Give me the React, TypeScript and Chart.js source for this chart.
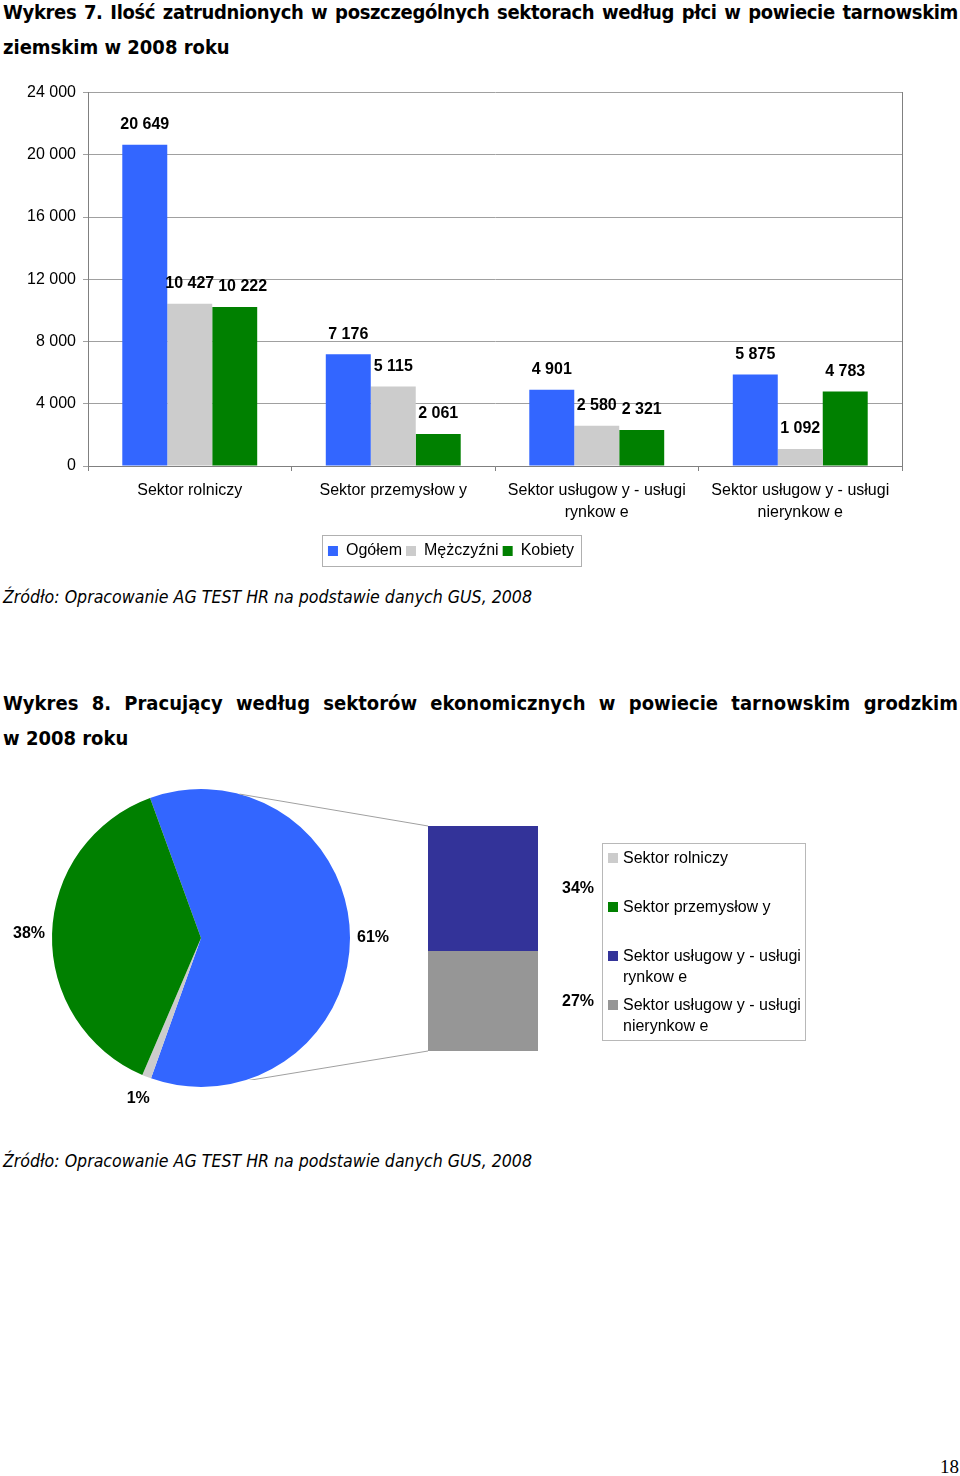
import React, { useEffect, useRef } from 'react';
import { Chart, registerables } from 'chart.js';

Chart.register(...registerables);

// ---------- Wykres 7 data ----------
const sectorLabels: (string | string[])[] = [
  'Sektor rolniczy',
  'Sektor przemysłow y',
  ['Sektor usługow y - usługi', 'rynkow e'],
  ['Sektor usługow y - usługi', 'nierynkow e'],
];
const seriesNames = ['Ogółem', 'Mężczyźni', 'Kobiety'];
const ogolem = [20649, 7176, 4901, 5875];
const mezczyzni = [10427, 5115, 2580, 1092];
const kobiety = [10222, 2061, 2321, 4783];
const yMin = 0;
const yMax = 24000;
const yStep = 4000;

// ---------- Wykres 8 data (percent) ----------
const pieSectorNames = [
  'Sektor rolniczy',
  'Sektor przemysłow y',
  'Sektor usługow y - usługi rynkow e',
  'Sektor usługow y - usługi nierynkow e',
];
const rolniczyShare = 1;
const przemyslowyShare = 38;
const rynkoweShare = 34;
const nierynkoweShare = 27;

const FONT = "'Liberation Sans', Arial, sans-serif";
const TITLE_FONT = "'DejaVu Sans Condensed', 'DejaVu Sans', sans-serif";

const fmt = (v: number) => String(v).replace(/\B(?=(\d{3})+(?!\d))/g, ' ');

const barValueLabels = {
  id: 'barValueLabels',
  afterDatasetsDraw(chart: any) {
    const ctx = chart.ctx;
    ctx.save();
    ctx.font = `bold 16px ${FONT}`;
    ctx.fillStyle = '#000';
    ctx.textAlign = 'center';
    ctx.textBaseline = 'middle';
    const n = chart.data.labels.length;
    for (let i = 0; i < n; i++) {
      let prevRight = -Infinity;
      let prevY = -Infinity;
      chart.data.datasets.forEach((ds: any, di: number) => {
        const bar: any = chart.getDatasetMeta(di).data[i];
        const txt = fmt(ds.data[i]);
        const w = ctx.measureText(txt).width;
        const ly = bar.y - 20;
        let cx = bar.x;
        if (Math.abs(ly - prevY) < 16 && cx - w / 2 < prevRight + 4) cx = prevRight + 4 + w / 2;
        ctx.fillText(txt, cx, ly);
        prevRight = cx + w / 2;
        prevY = ly;
      });
    }
    ctx.restore();
  },
};

const legendBorder = {
  id: 'legendBorder',
  afterDraw(chart: any) {
    const lg = chart.legend;
    if (!lg || !lg.legendHitBoxes || !lg.legendHitBoxes.length) return;
    const hb = lg.legendHitBoxes;
    let l = Infinity, r = -Infinity, t = Infinity, b = -Infinity;
    hb.forEach((h: any) => {
      l = Math.min(l, h.left);
      r = Math.max(r, h.left + h.width);
      t = Math.min(t, h.top);
      b = Math.max(b, h.top + h.height);
    });
    const ctx = chart.ctx;
    ctx.save();
    ctx.strokeStyle = '#b0b0b0';
    ctx.lineWidth = 1;
    ctx.strokeRect(Math.round(l - 6) + 0.5, Math.round(t - 8) + 0.5, Math.round(r - l + 13), Math.round(b - t + 15));
    ctx.restore();
  },
};

function BarChart() {
  const ref = useRef<HTMLCanvasElement>(null);
  useEffect(() => {
    const chart = new Chart(ref.current!, {
      type: 'bar',
      data: {
        labels: sectorLabels as any,
        datasets: [
          { label: seriesNames[0], data: ogolem, backgroundColor: '#3366FF' },
          { label: seriesNames[1], data: mezczyzni, backgroundColor: '#CCCCCC' },
          { label: seriesNames[2], data: kobiety, backgroundColor: '#008000' },
        ],
      },
      options: {
        animation: false,
        responsive: true,
        maintainAspectRatio: false,
        layout: { padding: { top: 8, right: 58, left: 0, bottom: 6 } },
        datasets: { bar: { categoryPercentage: 0.663, barPercentage: 1 } } as any,
        scales: {
          x: {
            grid: { offset: true, drawOnChartArea: false, tickLength: 5, color: '#808080' },
            border: { color: '#808080' },
            ticks: {
              font: { size: 16, family: FONT, lineHeight: 1.375 },
              color: '#000',
              maxRotation: 0,
              autoSkip: false,
              padding: 9,
            },
            afterFit: (s: any) => { s.height = 73; },
          },
          y: {
            min: yMin,
            max: yMax,
            ticks: {
              stepSize: yStep,
              callback: (v: any) => fmt(Number(v)),
              font: { size: 16, family: FONT },
              color: '#000',
              padding: 7,
            },
            grid: { color: '#a0a0a0', tickLength: 5 },
            border: { color: '#808080' },
            afterFit: (s: any) => { s.width = 88; },
          },
          y2: {
            position: 'right',
            display: true,
            grid: { display: false },
            ticks: { display: false },
            border: { color: '#808080' },
            afterFit: (s: any) => { s.width = 0; },
          },
        },
        plugins: {
          legend: {
            position: 'bottom',
            labels: { boxWidth: 10, boxHeight: 10, font: { size: 16, family: FONT }, color: '#000', padding: 4 },
          },
          tooltip: { enabled: false },
        },
      } as any,
      plugins: [barValueLabels, legendBorder],
    });
    return () => chart.destroy();
  }, []);
  return (
    <div style={{ position: 'absolute', left: 0, top: 76, width: 960, height: 499 }}>
      <canvas ref={ref} />
    </div>
  );
}

// geometry of page regions for Wykres 8
const PIE_LEFT = 0, PIE_TOP = 770;
const BAR_LEFT = 200, BAR_TOP = 780;

function PieOfBar() {
  const pieRef = useRef<HTMLCanvasElement>(null);
  const barRef = useRef<HTMLCanvasElement>(null);
  useEffect(() => {
    const otherShare = rynkoweShare + nierynkoweShare;
    const pieValues = [otherShare, rolniczyShare, przemyslowyShare];
    const pieLabels = ['Pozostałe', pieSectorNames[0], pieSectorNames[1]];
    const pieLabelsPlugin = {
      id: 'pieLabels',
      afterDatasetsDraw(chart: any) {
        const ctx = chart.ctx;
        const meta = chart.getDatasetMeta(0);
        ctx.save();
        ctx.font = `bold 16px ${FONT}`;
        ctx.fillStyle = '#000';
        ctx.textAlign = 'center';
        ctx.textBaseline = 'middle';
        meta.data.forEach((arc: any, i: number) => {
          const { x, y, startAngle, endAngle, outerRadius } = arc.getProps(['x', 'y', 'startAngle', 'endAngle', 'outerRadius'], true);
          const mid = (startAngle + endAngle) / 2;
          const rr = outerRadius + 23;
          ctx.fillText(pieValues[i] + '%', x + Math.cos(mid) * rr, y + Math.sin(mid) * rr);
        });
        ctx.restore();
      },
    };
    const pie = new Chart(pieRef.current!, {
      type: 'pie',
      data: {
        labels: pieLabels,
        datasets: [{ data: pieValues, backgroundColor: ['#3366FF', '#CCCCCC', '#008000'], borderWidth: 0 }],
      },
      options: {
        animation: false,
        responsive: true,
        maintainAspectRatio: false,
        rotation: -20,
        layout: { padding: { left: 52, top: 19, right: 80, bottom: 33 } },
        plugins: { legend: { display: false }, tooltip: { enabled: false } },
      } as any,
      plugins: [pieLabelsPlugin],
    });

    const connectors = {
      id: 'connectors',
      beforeDatasetsDraw(chart: any) {
        const arc: any = pie.getDatasetMeta(0).data[0];
        if (!arc) return;
        const { x, y, outerRadius } = arc.getProps(['x', 'y', 'outerRadius'], true);
        const cx = x + PIE_LEFT - BAR_LEFT;
        const cy = y + PIE_TOP - BAR_TOP;
        const a = (75 * Math.PI) / 180;
        const topMeta = chart.getDatasetMeta(1).data[0] as any;
        const botMeta = chart.getDatasetMeta(0).data[0] as any;
        const ctx = chart.ctx;
        ctx.save();
        ctx.strokeStyle = '#a0a0a0';
        ctx.lineWidth = 1;
        ctx.beginPath();
        ctx.moveTo(cx + Math.cos(-a) * outerRadius, cy + Math.sin(-a) * outerRadius);
        ctx.lineTo(topMeta.x - topMeta.width / 2, topMeta.y);
        ctx.moveTo(cx + Math.cos(a) * outerRadius, cy + Math.sin(a) * outerRadius);
        ctx.lineTo(botMeta.x - botMeta.width / 2, botMeta.base);
        ctx.stroke();
        ctx.restore();
      },
      afterDatasetsDraw(chart: any) {
        const ctx = chart.ctx;
        ctx.save();
        ctx.font = `bold 16px ${FONT}`;
        ctx.fillStyle = '#000';
        ctx.textAlign = 'center';
        ctx.textBaseline = 'middle';
        chart.data.datasets.forEach((ds: any, di: number) => {
          const el: any = chart.getDatasetMeta(di).data[0];
          ctx.fillText(ds.data[0] + '%', el.x + el.width / 2 + 40, (el.y + el.base) / 2);
        });
        ctx.restore();
      },
    };

    const bar = new Chart(barRef.current!, {
      type: 'bar',
      data: {
        labels: ['Pozostałe'],
        datasets: [
          { label: pieSectorNames[3], data: [nierynkoweShare], backgroundColor: '#969696' },
          { label: pieSectorNames[2], data: [rynkoweShare], backgroundColor: '#333399' },
        ],
      },
      options: {
        animation: false,
        responsive: true,
        maintainAspectRatio: false,
        layout: { padding: { left: 228, right: 82, top: 46, bottom: 29 } },
        datasets: { bar: { categoryPercentage: 1, barPercentage: 1 } } as any,
        scales: {
          x: { stacked: true, display: false },
          y: { stacked: true, display: false, min: 0, max: otherShare },
        },
        plugins: { legend: { display: false }, tooltip: { enabled: false } },
      } as any,
      plugins: [connectors],
    });
    return () => {
      bar.destroy();
      pie.destroy();
    };
  }, []);

  const legendItems: { color: string; lines: string[]; top: number }[] = [
    { color: '#CCCCCC', lines: ['Sektor rolniczy'], top: 847 },
    { color: '#008000', lines: ['Sektor przemysłow y'], top: 896 },
    { color: '#333399', lines: ['Sektor usługow y - usługi', 'rynkow e'], top: 945 },
    { color: '#969696', lines: ['Sektor usługow y - usługi', 'nierynkow e'], top: 994 },
  ];

  return (
    <>
      <div style={{ position: 'absolute', left: PIE_LEFT, top: PIE_TOP, width: 430, height: 350 }}>
        <canvas ref={pieRef} />
      </div>
      <div style={{ position: 'absolute', left: BAR_LEFT, top: BAR_TOP, width: 420, height: 300 }}>
        <canvas ref={barRef} />
      </div>
      <div
        style={{
          position: 'absolute', left: 602, top: 843, width: 204, height: 198,
          border: '1px solid #b8b8b8', boxSizing: 'border-box',
        }}
      />
      {legendItems.map((it, i) => (
        <div key={i} style={{ position: 'absolute', left: 608, top: it.top, fontFamily: FONT, fontSize: 16, lineHeight: '21px', color: '#000' }}>
          <span style={{ position: 'absolute', left: 0, top: 6, width: 10, height: 10, background: it.color }} />
          <div style={{ marginLeft: 15, whiteSpace: 'nowrap' }}>
            {it.lines.map((l, j) => (<div key={j}>{l}</div>))}
          </div>
        </div>
      ))}
    </>
  );
}

const titleLine: React.CSSProperties = {
  position: 'absolute',
  left: 3,
  width: 955,
  fontFamily: TITLE_FONT,
  fontWeight: 'bold',
  fontSize: 20,
  lineHeight: '24px',
  color: '#000',
  whiteSpace: 'nowrap',
};

const sourceStyle: React.CSSProperties = {
  position: 'absolute',
  left: 3,
  fontFamily: TITLE_FONT,
  fontStyle: 'italic',
  fontSize: 17.6,
  lineHeight: '22px',
  color: '#000',
  whiteSpace: 'nowrap',
};

export default function App() {
  return (
    <div style={{ position: 'absolute', left: 0, top: 0, width: 960, height: 1476, background: '#fff', overflow: 'hidden' }}>
      <div style={{ ...titleLine, top: 0, letterSpacing: '-0.35px', textAlign: 'justify', textAlignLast: 'justify' }}>
        Wykres 7. Ilość zatrudnionych w poszczególnych sektorach według płci w powiecie tarnowskim
      </div>
      <div style={{ ...titleLine, top: 35 }}>ziemskim w 2008 roku</div>
      <BarChart />
      <div style={{ ...sourceStyle, top: 586 }}>Źródło: Opracowanie AG TEST HR na podstawie danych GUS, 2008</div>
      <div style={{ ...titleLine, top: 691, textAlign: 'justify', textAlignLast: 'justify' }}>
        Wykres 8. Pracujący według sektorów ekonomicznych w powiecie tarnowskim grodzkim
      </div>
      <div style={{ ...titleLine, top: 726 }}>w 2008 roku</div>
      <PieOfBar />
      <div style={{ ...sourceStyle, top: 1150 }}>Źródło: Opracowanie AG TEST HR na podstawie danych GUS, 2008</div>
      <div style={{ position: 'absolute', right: 1, top: 1456, fontFamily: "'Liberation Serif', 'Times New Roman', serif", fontSize: 19, lineHeight: '22px', color: '#000' }}>18</div>
    </div>
  );
}
